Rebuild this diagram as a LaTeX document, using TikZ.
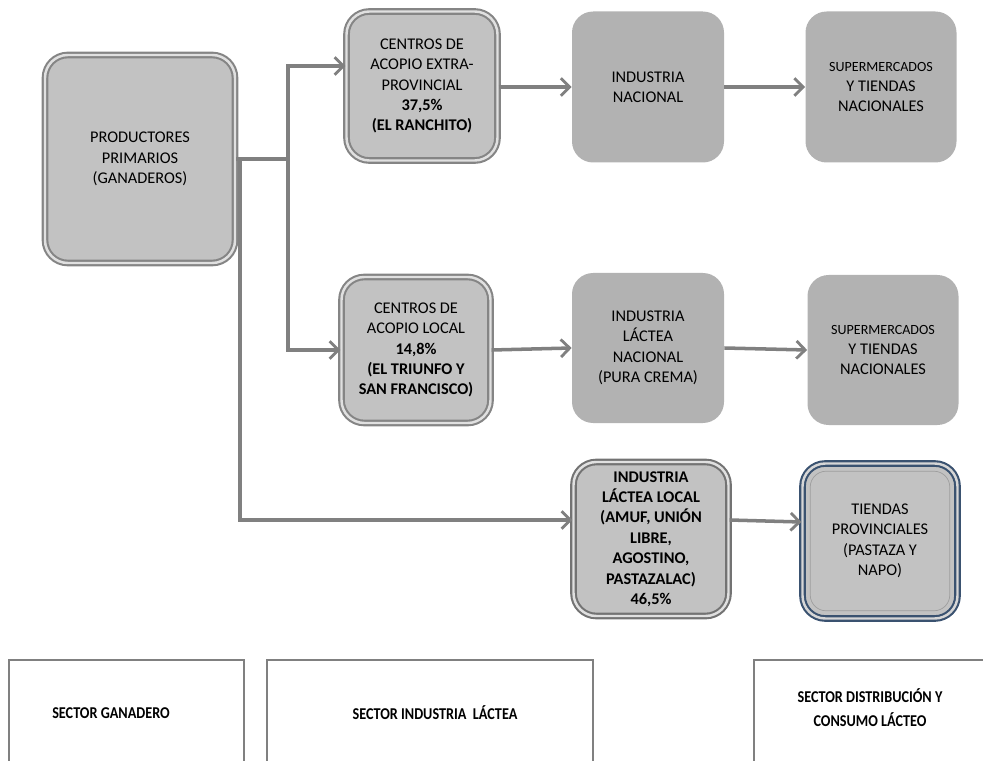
\documentclass[tikz,border=0pt]{standalone}
\usepackage{fontspec}
\setmainfont{Carlito}
\usetikzlibrary{arrows.meta,shadows}
\definecolor{tiendasblue}{RGB}{58,82,112}
\tikzset{
  bevel/.style={rounded corners=13pt, fill=black!24, draw=black!48, double=black!12,
    double distance=1.4pt, line width=1.2pt, align=center,
    drop shadow={opacity=0.25, shadow xshift=1pt, shadow yshift=-1.5pt}},
  flat/.style={rounded corners=12pt, fill=black!30, align=center},
  flow/.style={draw=black!50, line width=2pt,
    -{Straight Barb[length=5pt,width=10pt,line width=1.6pt]}},
  sector/.style={draw=black!50, line width=1.6pt},
  sectortext/.style={align=center, xscale=0.86, transform shape,
    font=\bfseries\fontsize{9.4}{13.6}\selectfont}
}
\begin{document}
\begin{tikzpicture}[font=\fontsize{9.3}{11.6}\selectfont]
    \useasboundingbox (0,0) rectangle (19.66,-15.22);
    {
    \def\ganaderobox{(0.18,-13.2) rectangle (4.88,-15.5)}
    \def\industriabox{(5.34,-13.2) rectangle (11.86,-15.5)}
    \def\consumobox{(15.08,-13.2) rectangle (19.9,-15.5)}

    % actores de la cadena
    \node[bevel, minimum width=3.8cm, minimum height=4.16cm] (prod) at (2.8,-3.18)
        {PRODUCTORES\\PRIMARIOS\\(GANADEROS)};
    \node[bevel, minimum width=3.02cm, minimum height=2.98cm] (acopio1) at (8.44,-1.72)
        {CENTROS DE\\ACOPIO EXTRA-\\PROVINCIAL\\\textbf{37,5\%}\\\textbf{(EL RANCHITO)}};
    \node[bevel, minimum width=2.98cm, minimum height=2.92cm] (acopio2) at (8.32,-7.0)
        {CENTROS DE\\ACOPIO LOCAL\\\textbf{14,8\%}\\\textbf{(EL TRIUNFO Y}\\\textbf{SAN FRANCISCO)}};
    \node[bevel, draw=black!55, minimum width=3.1cm, minimum height=3.08cm] (indlocal) at (13.02,-10.78)
        {\textbf{INDUSTRIA}\\\textbf{LÁCTEA LOCAL}\\\textbf{(AMUF, UNIÓN}\\\textbf{LIBRE,}\\\textbf{AGOSTINO,}\\\textbf{PASTAZALAC)}\\\textbf{46,5\%}};
    \node[bevel, draw=tiendasblue, double=black!16, minimum width=3.1cm, minimum height=3.1cm] (tiendas) at (17.6,-10.82)
        {TIENDAS\\PROVINCIALES\\(PASTAZA Y\\NAPO)};
    \draw[black!38, rounded corners=9pt] ([shift={(5pt,-5pt)}]tiendas.north west)
        rectangle ([shift={(-5pt,5pt)}]tiendas.south east);

    \node[flat, minimum width=3.04cm, minimum height=3.02cm] (ind1) at (12.96,-1.74)
        {INDUSTRIA\\NACIONAL};
    \node[flat, minimum width=3.02cm, minimum height=3.02cm] (super1) at (17.62,-1.74)
        {{\fontsize{8}{10}\selectfont SUPERMERCADOS}\\Y TIENDAS\\NACIONALES};
    \node[flat, minimum width=3.04cm, minimum height=3.0cm] (ind2) at (12.96,-6.96)
        {INDUSTRIA\\LÁCTEA\\NACIONAL\\(PURA CREMA)};
    \node[flat, minimum width=3.02cm, minimum height=3.0cm] (super2) at (17.66,-7.0)
        {{\fontsize{8}{10}\selectfont SUPERMERCADOS}\\Y TIENDAS\\NACIONALES};

    % flujos
    \coordinate (split) at (5.76,-3.18);
    \coordinate (drop) at (4.8,-3.18);
    \draw[flow] (prod.east) -- (split) |- ([yshift=4mm]acopio1.west);
    \draw[flow] (split) |- (acopio2.west);
    \draw[flow] (drop) |- ([yshift=3.8mm]indlocal.west);
    \draw[flow] (acopio1.east |- ind1.west) -- (ind1.west);
    \draw[flow] (ind1.east) -- (super1.west);
    \draw[flow] (acopio2.east) -- (ind2.west);
    \draw[flow] (ind2.east) -- (super2.west);
    \draw[flow] ([yshift=3.8mm]indlocal.east) -- ([yshift=3.8mm]tiendas.west);

    % sectores
    \draw[sector] \ganaderobox;
    \draw[sector] \industriabox;
    \draw[sector] \consumobox;
    \node[sectortext] (sganadero) at (2.22,-14.26) {SECTOR GANADERO};
    \node[sectortext] (sindustria) at (8.7,-14.26) {SECTOR INDUSTRIA\ \ LÁCTEA};
    \node[sectortext] (sconsumo) at (17.4,-14.16) {SECTOR DISTRIBUCIÓN Y\\CONSUMO LÁCTEO};
}
\end{tikzpicture}
\end{document}
